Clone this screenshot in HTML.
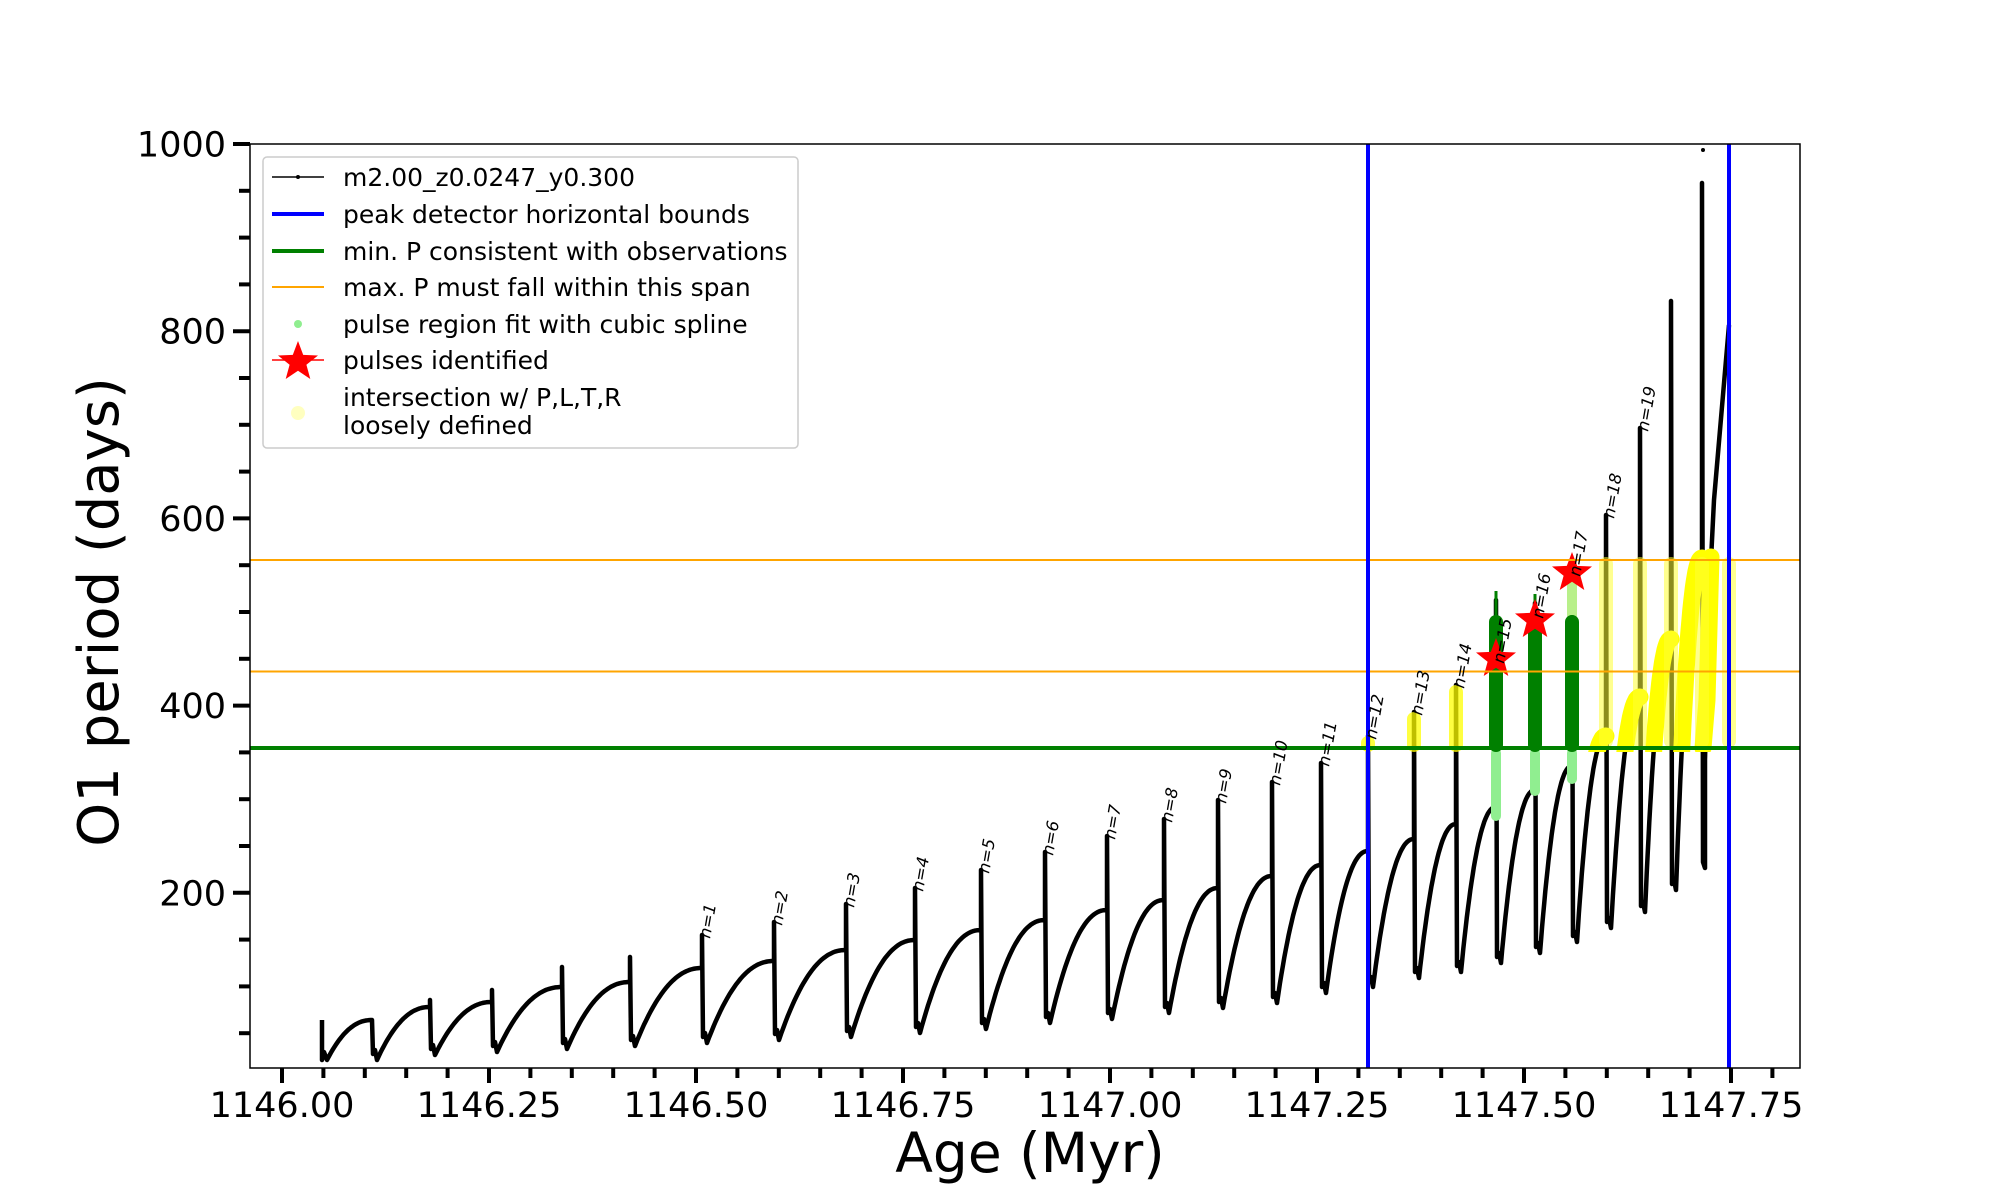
<!DOCTYPE html>
<html><head><meta charset="utf-8">
<style>
html,body{margin:0;padding:0;background:#fff;}
svg{display:block;}
text{font-family:"DejaVu Sans","Liberation Sans",sans-serif;}
</style></head>
<body>
<svg id="s" width="2000" height="1200" viewBox="0 0 2000 1200" xmlns="http://www.w3.org/2000/svg">
<defs>
<clipPath id="plot"><rect x="250" y="144" width="1550" height="924"/></clipPath>
<clipPath id="above"><rect x="250" y="540" width="1550" height="212"/></clipPath>
</defs>
<rect x="0" y="0" width="2000" height="1200" fill="#fff"/>
<g id="g"></g>
</svg>
<script>
(function(){
var g=document.getElementById('g');
var h='';
function Y(v){return 144+(1000-v)*0.936;}
function X(a){return 282+(a-1146)*828;}
var P=[[322,null,1020,1060],[372,1020,1020,1060],[430,1007,1000,1055],[492,1002,990,1052],
[562,987,967,1049],[630,982,957,1046],[702,968,935,1043],[774,961,922,1040],[846,950,904,1037],
[915,940,888,1033],[981,930,870,1029],[1045,920,852,1023],[1107,910,836,1019],[1164,900,819,1013],
[1218,888,800,1008],[1272,876,782,1003],[1321,865,763,993],[1368,851,736,987],[1414,839,712,978],
[1456,824,685,972],[1496,807,600,963],[1535,790,603,953],[1572,766,573,942],[1606,736,515,928],
[1640,697,428,912],[1671,639,301,890],[1702,558,183,868]];
function rise(i){
  var a=P[i],b=P[i+1],pts=[];var x0=a[0]+5,x1=b[0];
  for(var k=0;k<=30;k++){var t=k/30;var x=x0+(x1-x0)*t;var y=a[3]+(b[1]-a[3])*(1-Math.pow(1-t,2.2));pts.push(x.toFixed(1)+','+y.toFixed(1));}
  return pts;
}
var d='M322,1020 L322,1060 L324,1052 L327,1060 ';
for(var i=0;i<P.length-1;i++){
  if(i>0){var p=P[i];d+='L'+p[0]+','+p[1]+' L'+p[0]+','+p[2]+' L'+(p[0]+1)+','+(p[3]-6)+' L'+(p[0]+3)+','+(p[3]-10)+' L'+(p[0]+5)+','+p[3]+' ';}
  d+='L'+rise(i).join(' L')+' ';
}
var L=P[P.length-1];
d+='L'+L[0]+','+L[1]+' L'+L[0]+','+L[2]+' L'+(L[0]+1)+','+(L[3]-6)+' L'+(L[0]+3)+','+L[3]+' L1705,760 L1709,600 L1714,500 L1729,325';
h+='<g clip-path="url(#plot)"><path d="'+d+'" fill="none" stroke="#000" stroke-width="4.5" stroke-linejoin="round"/>';
h+='<circle cx="1703" cy="150" r="2" fill="#000"/>';
var yd='';
for(var i=22;i<26;i++){yd+='M'+rise(i).join(' L')+' ';}
yd+='M1703,748 L1707,700 L1711,557';
h+='<path d="'+yd+'" clip-path="url(#above)" fill="none" stroke="#ffff00" stroke-width="17" stroke-linecap="round" stroke-linejoin="round"/>';
[1606,1640,1671,1702,1729].forEach(function(x){h+='<rect x="'+(x-7)+'" y="557" width="14" height="191" rx="7" fill="#ffff33" fill-opacity="0.55"/>';});
[[1368,736],[1414,712],[1456,685],[1496,660]].forEach(function(a){h+='<rect x="'+(a[0]-7)+'" y="'+a[1]+'" width="14" height="'+(752-a[1])+'" rx="7" fill="#ffff00" fill-opacity="0.75"/>';});
[[1496,821],[1535,796],[1572,784]].forEach(function(a){h+='<rect x="'+(a[0]-5)+'" y="748" width="10" height="'+(a[1]-748)+'" rx="5" fill="#90ee90"/>';});
h+='<rect x="1567" y="575" width="10" height="45" rx="5" fill="#b8f08a"/>';
[[1496,591],[1535,594],[1572,615]].forEach(function(a){h+='<line x1="'+a[0]+'" y1="'+a[1]+'" x2="'+a[0]+'" y2="620" stroke="#008000" stroke-width="3"/><rect x="'+(a[0]-7)+'" y="615" width="14" height="137" rx="7" fill="#008000"/>';});
h+='</g>';
function star(cx,cy,R){var r=R*0.42,s='';for(var k=0;k<10;k++){var ang=-Math.PI/2+k*Math.PI/5;var rr=k%2?r:R;s+=(cx+rr*Math.cos(ang)).toFixed(1)+','+(cy+rr*Math.sin(ang)).toFixed(1)+' ';}return '<polygon points="'+s+'" fill="#ff0000"/>';}
h+=star(1496,659,21)+star(1535,620,21)+star(1572,573,21);
h+='<line x1="250" y1="560" x2="1800" y2="560" stroke="#ffa500" stroke-width="2"/>';
h+='<line x1="250" y1="671.5" x2="1800" y2="671.5" stroke="#ffa500" stroke-width="2"/>';
h+='<line x1="250" y1="748" x2="1800" y2="748" stroke="#008000" stroke-width="4"/>';
h+='<line x1="1368" y1="144" x2="1368" y2="1068" stroke="#0000ff" stroke-width="4"/>';
h+='<line x1="1729" y1="144" x2="1729" y2="1068" stroke="#0000ff" stroke-width="4"/>';
var lab=[[702,935,1],[774,922,2],[846,904,3],[915,888,4],[981,870,5],[1045,852,6],[1107,836,7],[1164,819,8],[1218,800,9],[1272,782,10],[1321,763,11],[1368,736,12],[1414,712,13],[1456,685,14],[1496,660,15],[1535,615,16],[1572,573,17],[1606,515,18],[1640,428,19]];
lab.forEach(function(a){var x=a[0]+8,y=a[1]+4;h+='<text x="'+x+'" y="'+y+'" font-size="16.5" font-style="italic" transform="rotate(-80 '+x+' '+y+')">n=' +a[2]+'</text>';});
h+='<rect x="250" y="144" width="1550" height="924" fill="none" stroke="#000" stroke-width="1.5"/>';
for(var v=50;v<=1000;v+=50){var y=Y(v);var maj=(v%200===0);h+='<line x1="'+(maj?233:239)+'" y1="'+y+'" x2="250" y2="'+y+'" stroke="#000" stroke-width="4"/>';if(maj)h+='<text x="226" y="'+(y+12.5)+'" font-size="35" text-anchor="end">'+v+'</text>';}
for(var k=0;k<=36;k++){var a=1146+k*0.05;var x=X(a);var maj=(k%5===0);h+='<line x1="'+x+'" y1="1068" x2="'+x+'" y2="'+(maj?1083:1078)+'" stroke="#000" stroke-width="4"/>';if(maj)h+='<text x="'+x+'" y="1117" font-size="35" text-anchor="middle">'+a.toFixed(2)+'</text>';}
h+='<text x="1030" y="1172" font-size="55" text-anchor="middle">Age (Myr)</text>';
h+='<text x="118" y="612" font-size="56" text-anchor="middle" transform="rotate(-90 118 612)">O1 period (days)</text>';
h+='<rect x="263" y="157" width="535" height="291" rx="4" fill="#fff" fill-opacity="0.8" stroke="#ccc" stroke-width="1.5"/>';
h+='<line x1="272" y1="177" x2="324" y2="177" stroke="#000" stroke-width="1.5"/><circle cx="298" cy="177" r="2" fill="#000"/>';
h+='<line x1="272" y1="214" x2="324" y2="214" stroke="#0000ff" stroke-width="4"/>';
h+='<line x1="272" y1="251" x2="324" y2="251" stroke="#008000" stroke-width="4"/>';
h+='<line x1="272" y1="287" x2="324" y2="287" stroke="#ffa500" stroke-width="2"/>';
h+='<circle cx="298" cy="324" r="4" fill="#90ee90"/>';
h+='<line x1="272" y1="360" x2="324" y2="360" stroke="#ff0000" stroke-width="1.5"/>'+star(298,362,21);
h+='<circle cx="298" cy="413" r="7" fill="#ffffc0"/>';
var lt=[['m2.00_z0.0247_y0.300',177],['peak detector horizontal bounds',214],['min. P consistent with observations',251],['max. P must fall within this span',287],['pulse region fit with cubic spline',324],['pulses identified',360],['intersection w/ P,L,T,R',397],['loosely defined',425]];
lt.forEach(function(a){h+='<text x="343" y="'+(a[1]+9)+'" font-size="25">'+a[0]+'</text>';});
g.innerHTML=h;
})();
</script>
</body></html>
